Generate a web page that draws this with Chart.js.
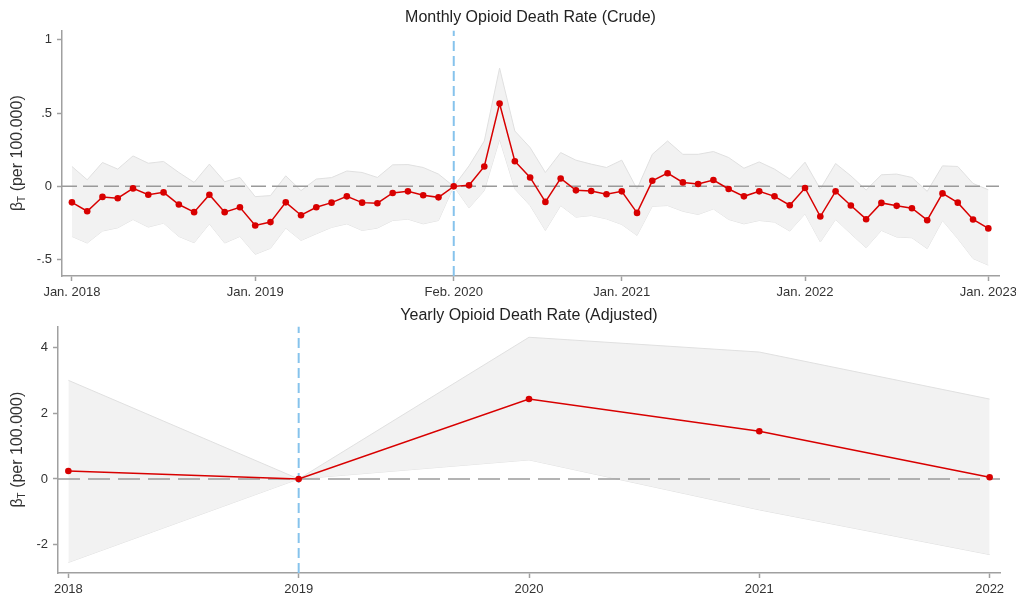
<!DOCTYPE html>
<html>
<head>
<meta charset="utf-8">
<script src="https://cdn.jsdelivr.net/npm/chart.js@4/dist/chart.umd.min.js"></script>
<style>
  html, body { margin: 0; padding: 0; background: #fff; }
  .panel { position: relative; width: 1016px; }
  #monthlyWrap { height: 300px; }
  #yearlyWrap { height: 298px; }
</style>
</head>
<body>
<div class="panel" id="monthlyWrap"><canvas id="monthlyChart"></canvas></div>
<div class="panel" id="yearlyWrap"><canvas id="yearlyChart"></canvas></div>
<script>
// Monthly (crude) event-study estimates, month index 0 = Jan. 2018 ... 60 = Jan. 2023
const monthlyEstimate = [
  -0.109, -0.170, -0.072, -0.081, -0.014, -0.057, -0.041, -0.124, -0.176, -0.057, -0.176, -0.143,
  -0.267, -0.244, -0.109, -0.197, -0.143, -0.111, -0.068, -0.111, -0.115, -0.045, -0.034, -0.061,
  -0.075, 0, 0.007, 0.136, 0.566, 0.172, 0.061, -0.106, 0.054, -0.027, -0.032, -0.054,
  -0.034, -0.181, 0.038, 0.090, 0.027, 0.016, 0.043, -0.018, -0.068, -0.034, -0.068, -0.129,
  -0.011, -0.206, -0.034, -0.131, -0.224, -0.113, -0.133, -0.149, -0.231, -0.048, -0.111, -0.226,
  -0.287
]
const monthlyUpper = [
  0.136, 0.045, 0.163, 0.118, 0.208, 0.158, 0.170, 0.095, 0.027, 0.152, 0.032, 0.061,
  -0.070, -0.063, 0.072, -0.029, 0.050, 0.060, 0.105, 0.095, 0.061, 0.147, 0.149, 0.129,
  0.084, 0, 0.140, 0.310, 0.808, 0.378, 0.265, 0.095, 0.231, 0.179, 0.152, 0.129,
  0.179, -0.018, 0.219, 0.310, 0.219, 0.219, 0.238, 0.197, 0.124, 0.167, 0.118, 0.050,
  0.165, -0.018, 0.156, 0.072, -0.025, 0.079, 0.084, 0.061, -0.034, 0.140, 0.136, 0.020,
  -0.023
]
const monthlyLower = [
  -0.342, -0.387, -0.305, -0.283, -0.226, -0.278, -0.251, -0.342, -0.385, -0.256, -0.387, -0.342,
  -0.464, -0.423, -0.285, -0.369, -0.324, -0.280, -0.256, -0.301, -0.285, -0.233, -0.224, -0.256,
  -0.233, 0, -0.147, -0.029, 0.321, -0.018, -0.131, -0.301, -0.131, -0.210, -0.199, -0.222,
  -0.260, -0.335, -0.136, -0.131, -0.170, -0.192, -0.154, -0.226, -0.256, -0.233, -0.244, -0.305,
  -0.188, -0.380, -0.226, -0.324, -0.419, -0.301, -0.346, -0.351, -0.425, -0.233, -0.357, -0.493,
  -0.538
]
const monthlyTickPos = [0, 12, 25, 36, 48, 60]
const monthlyTickLabels = ['Jan. 2018', 'Jan. 2019', 'Feb. 2020', 'Jan. 2021', 'Jan. 2022', 'Jan. 2023']
const monthlyYTicks = [-0.5, 0, 0.5, 1]
const monthlyYLabels = ['-.5', '0', '.5', '1']
const monthlyRef = 25 // Feb. 2020
const monthlyXRange = [-0.65, 60.7]
const monthlyYRange = [-0.612, 1.065]

// Yearly (adjusted) estimates
const years = [2018, 2019, 2020, 2021, 2022]
const yearlyEstimate = [0.24, 0, 2.43, 1.45, 0.05]
const yearlyUpper = [3.0, 0, 4.31, 3.86, 2.43]
const yearlyLower = [-2.54, 0, 0.58, -0.94, -2.30]
const yearlyYTicks = [-2, 0, 2, 4]
const yearlyYLabels = ['-2', '0', '2', '4']
const yearlyRef = 2019
const yearlyXRange = [2017.955, 2022.045]
const yearlyYRange = [-2.86, 4.64]

const FONT = "'Liberation Sans', Arial, sans-serif"
const RED = '#d80000'
const BAND = '#f2f2f2'
const BAND_EDGE = '#e0e0e0'
const ZERO = '#9a9a9a'
const BLUE = '#86c3ec'
const AXIS = '#a0a0a0'
const TEXT = '#333333'

// y axis title with subscript T, drawn rotated at the left edge
const yTitlePlugin = {
  id: 'yTitle',
  afterDraw(chart, args, opts) {
    const ctx = chart.ctx
    const area = chart.chartArea
    const cy = (area.top + area.bottom) / 2
    ctx.save()
    ctx.translate(opts.x, cy)
    ctx.rotate(-Math.PI / 2)
    ctx.fillStyle = TEXT
    ctx.textBaseline = 'alphabetic'
    ctx.textAlign = 'left'
    const big = '16px ' + FONT
    const small = '10px ' + FONT
    ctx.font = big
    const wBeta = ctx.measureText('β').width
    const rest = ' (per 100.000)'
    const wRest = ctx.measureText(rest).width
    ctx.font = small
    const wT = ctx.measureText('T').width
    const total = wBeta + wT + wRest
    let x = -total / 2
    const base = 5
    ctx.font = big
    ctx.fillText('β', x, base)
    x += wBeta
    ctx.font = small
    ctx.fillText('T', x, base + 3)
    x += wT
    ctx.font = big
    ctx.fillText(rest, x, base)
    ctx.restore()
  }
}

function buildChart(canvasId, cfg) {
  const toPts = (xs, ys) => ys.map((y, i) => ({ x: xs[i], y: y }))
  const ctx = document.getElementById(canvasId)

  return new Chart(ctx, {
    type: 'line',
    data: {
      datasets: [
        {
          data: toPts(cfg.xs, cfg.upper),
          borderColor: BAND_EDGE,
          borderWidth: 1,
          backgroundColor: BAND,
          pointRadius: 0,
          fill: '+1',
          order: 4
        },
        {
          data: toPts(cfg.xs, cfg.lower),
          borderColor: BAND_EDGE,
          borderWidth: 1,
          pointRadius: 0,
          fill: false,
          order: 4
        },
        {
          data: [{ x: cfg.xRange[0], y: 0 }, { x: cfg.xRange[1], y: 0 }],
          borderColor: ZERO,
          borderWidth: 1.5,
          borderDash: cfg.zeroDash,
          pointRadius: 0,
          fill: false,
          order: 3
        },
        {
          data: [{ x: cfg.ref, y: cfg.yRange[0] }, { x: cfg.ref, y: cfg.yRange[1] }],
          borderColor: BLUE,
          borderWidth: 2,
          borderDash: [10, 5],
          pointRadius: 0,
          fill: false,
          order: 2
        },
        {
          data: toPts(cfg.xs, cfg.estimate),
          borderColor: RED,
          backgroundColor: RED,
          borderWidth: 1.5,
          pointRadius: cfg.pointRadius,
          pointBorderWidth: 0,
          fill: false,
          order: 1
        }
      ]
    },
    options: {
      responsive: true,
      maintainAspectRatio: false,
      animation: false,
      events: [],
      layout: {
        autoPadding: false,
        padding: { left: 0, right: cfg.padRight, top: 0, bottom: 0 }
      },
      plugins: {
        legend: { display: false },
        tooltip: { enabled: false },
        title: {
          display: true,
          text: cfg.title,
          fullSize: false,
          color: '#222',
          font: { family: FONT, size: 16, weight: 'normal', lineHeight: 1.15 },
          padding: cfg.titlePad
        },
        yTitle: { x: 17 }
      },
      scales: {
        x: {
          type: 'linear',
          min: cfg.xRange[0],
          max: cfg.xRange[1],
          afterBuildTicks: s => { s.ticks = cfg.xTicks.map(v => ({ value: v })) },
          afterFit: s => {
            s.height = cfg.xHeight
            s.paddingLeft = 0
            s.paddingRight = 0
          },
          border: { color: AXIS, width: 1.5 },
          grid: { drawOnChartArea: false, drawTicks: true, tickLength: 5, color: AXIS, tickWidth: 1.5 },
          ticks: {
            color: TEXT,
            font: { family: FONT, size: 13 },
            padding: 4,
            maxRotation: 0,
            autoSkip: false,
            callback: v => cfg.xLabels[cfg.xTicks.indexOf(v)]
          }
        },
        y: {
          min: cfg.yRange[0],
          max: cfg.yRange[1],
          afterBuildTicks: s => { s.ticks = cfg.yTicks.map(v => ({ value: v })) },
          afterFit: s => {
            s.width = cfg.yWidth
            s.paddingTop = 0
            s.paddingBottom = 0
          },
          border: { color: AXIS, width: 1.5 },
          grid: { drawOnChartArea: false, drawTicks: true, tickLength: 5, color: AXIS, tickWidth: 1.5 },
          ticks: {
            color: TEXT,
            font: { family: FONT, size: 13 },
            padding: 5,
            callback: v => cfg.yLabels[cfg.yTicks.indexOf(v)]
          }
        }
      }
    },
    plugins: [yTitlePlugin]
  })
}

const charts = []

charts.push(buildChart('monthlyChart', {
  title: 'Monthly Opioid Death Rate (Crude)',
  xs: monthlyEstimate.map((_, i) => i),
  estimate: monthlyEstimate,
  upper: monthlyUpper,
  lower: monthlyLower,
  xTicks: monthlyTickPos,
  xLabels: monthlyTickLabels,
  yTicks: monthlyYTicks,
  yLabels: monthlyYLabels,
  ref: monthlyRef,
  xRange: monthlyXRange,
  yRange: monthlyYRange,
  zeroDash: [15, 6],
  pointRadius: 3.3,
  padRight: 17,
  titlePad: { top: 8, bottom: 4 },
  xHeight: 24,
  yWidth: 62
}))

charts.push(buildChart('yearlyChart', {
  title: 'Yearly Opioid Death Rate (Adjusted)',
  xs: years,
  estimate: yearlyEstimate,
  upper: yearlyUpper,
  lower: yearlyLower,
  xTicks: years,
  xLabels: years.map(String),
  yTicks: yearlyYTicks,
  yLabels: yearlyYLabels,
  ref: yearlyRef,
  xRange: yearlyXRange,
  yRange: yearlyYRange,
  zeroDash: [22, 8],
  pointRadius: 3.3,
  padRight: 16,
  titlePad: { top: 6, bottom: 2 },
  xHeight: 25,
  yWidth: 58
}))
</script>
</body>
</html>
